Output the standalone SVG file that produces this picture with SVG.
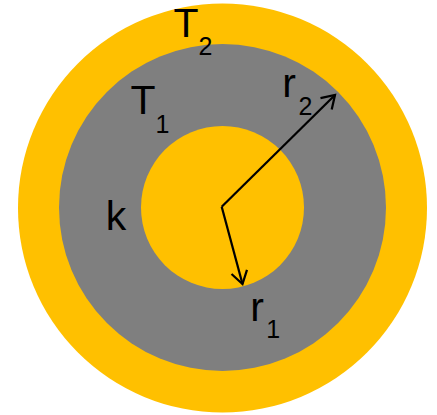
<svg xmlns="http://www.w3.org/2000/svg" width="437" height="415" viewBox="0 0 437 415">
  <style>
    .lbl { font-family: "Liberation Sans", Arial, sans-serif; font-size: 41px; fill: #000; text-anchor: middle; }
    .sub { font-family: "Liberation Sans", Arial, sans-serif; font-size: 25px; fill: #000; text-anchor: middle; }
    .ring-y { fill: #FFC000; }
    .ring-g { fill: #7F7F7F; }
    .arrow { stroke: #000; stroke-width: 2.25; fill: none; marker-end: url(#openV); }
  </style>
  <defs>
    <marker id="openV" markerUnits="userSpaceOnUse" orient="auto" refX="0" refY="0" markerWidth="30" markerHeight="30" viewBox="-20 -15 30 30" overflow="visible">
      <path d="M -12.5 -8 L 0 0 L -12.5 8" fill="none" stroke="#000" stroke-width="2.25" stroke-linejoin="miter"/>
    </marker>
  </defs>
  <g id="outer-cylinder">
    <circle class="ring-y" cx="222.5" cy="208" r="204.5"/>
  </g>
  <g id="wall">
    <circle class="ring-g" cx="222.5" cy="207.5" r="163.5"/>
  </g>
  <g id="inner-core">
    <circle class="ring-y" cx="222.5" cy="207.5" r="81.5"/>
  </g>
  <g id="connectors">
    <line class="arrow" x1="221.7" y1="206.7" x2="335" y2="95"/>
    <line class="arrow" x1="221.7" y1="206.7" x2="242.5" y2="284"/>
  </g>
  <g id="label-T2">
    <text class="lbl" x="186" y="36.5">T</text>
    <text class="sub" x="205.5" y="55">2</text>
  </g>
  <g id="label-T1">
    <text class="lbl" x="143" y="114.3">T</text>
    <text class="sub" x="162.5" y="132.7">1</text>
  </g>
  <g id="label-k">
    <text class="lbl" x="116" y="230">k</text>
  </g>
  <g id="label-r2">
    <text class="lbl" x="289" y="97.3">r</text>
    <text class="sub" x="305.5" y="115">2</text>
  </g>
  <g id="label-r1">
    <text class="lbl" x="257" y="320.7">r</text>
    <text class="sub" x="273.3" y="338.3">1</text>
  </g>
</svg>
